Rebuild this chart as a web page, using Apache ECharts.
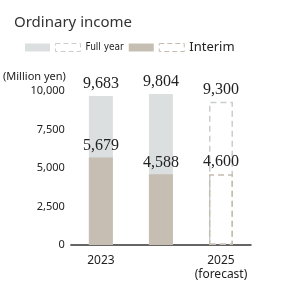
<!DOCTYPE html>
<html>
<head>
<meta charset="utf-8">
<script src="https://cdn.jsdelivr.net/npm/echarts@6/dist/echarts.min.js"></script>
<style>
  html, body { margin: 0; padding: 0; background: #fff; }
  #chart { width: 283px; height: 283px; }
</style>
</head>
<body>
<div id="chart"></div>
<script>
const years = ["2023", "2024", "2025\n(forecast)"];
const fullYear = [9683, 9804, "-"];
const fullYearForecast = ["-", "-", 9300];
const interim = [5679, 4588, "-"];
const interimForecast = ["-", "-", 4600];

const GRAY = "#dbdfe0";
const TAN = "#c6beb2";
const GRAY_DASH = "#c9cdce";
const TAN_DASH = "#c4bcb0";
const fmt = (v) => Number(v).toLocaleString("en-US");

const valueLabel = {
  show: true,
  position: "top",
  distance: 4,
  fontFamily: "Liberation Serif",
  fontSize: 16,
  color: "#222",
  formatter: (p) => fmt(p.value)
};

const chart = echarts.init(document.getElementById("chart"));
chart.setOption({
  animation: false,
  title: {
    text: "Ordinary income",
    left: 14,
    top: 15,
    padding: 0,
    textStyle: { fontFamily: "Noto Sans", fontSize: 15, fontWeight: "normal", color: "#333" }
  },
  legend: {
    left: 25,
    top: 41,
    padding: 0,
    itemWidth: 25,
    itemHeight: 8,
    itemGap: 5,
    selectedMode: false,
    data: [
      { name: "Full year", icon: "rect", textStyle: { fontSize: 0 } },
      {
        name: "Full year forecast", icon: "rect",
        itemStyle: { color: "rgba(255,255,255,0)", borderColor: GRAY_DASH, borderWidth: 1, borderType: [5, 3] },
        textStyle: { fontFamily: "DejaVu Sans Condensed, DejaVu Sans, sans-serif", fontSize: 10, color: "#222", padding: [0, 6, 0, 0] }
      },
      { name: "Interim", icon: "rect", textStyle: { fontSize: 0 } },
      {
        name: "Interim forecast", icon: "rect",
        itemStyle: { color: "rgba(255,255,255,0)", borderColor: TAN_DASH, borderWidth: 1, borderType: [5, 3] },
        textStyle: { fontFamily: "Noto Sans", fontSize: 13, color: "#222" }
      }
    ],
    formatter: (name) => name === "Full year forecast" ? "Full year" : name === "Interim forecast" ? "Interim" : ""
  },
  grid: { left: 70, right: 32, top: 91, bottom: 38 },
  xAxis: {
    type: "category",
    data: years,
    axisTick: { show: false },
    axisLine: { lineStyle: { color: "#333", width: 1.5 } },
    axisLabel: { fontFamily: "Noto Sans", fontSize: 12, color: "#222", margin: 9, lineHeight: 14, verticalAlign: "top" }
  },
  yAxis: {
    type: "value",
    min: 0,
    max: 10000,
    interval: 2500,
    name: "(Million yen)",
    nameLocation: "end",
    nameGap: 14,
    nameTextStyle: { fontFamily: "Noto Sans", fontSize: 11, color: "#222", align: "right", verticalAlign: "middle", padding: [0, 5, 0, 0] },
    splitLine: { show: false },
    axisLine: { show: false },
    axisTick: { show: false },
    axisLabel: { fontFamily: "Noto Sans", fontSize: 11, color: "#222", margin: 6, formatter: fmt }
  },
  series: [
    {
      name: "Full year", type: "bar", data: fullYear, barWidth: 24, barGap: "-100%",
      itemStyle: { color: GRAY }, label: valueLabel
    },
    {
      name: "Full year forecast", type: "bar", data: fullYearForecast, barWidth: 24, barGap: "-100%",
      itemStyle: { color: "rgba(255,255,255,0)", borderColor: GRAY_DASH, borderWidth: 1.5, borderType: [6, 4] },
      label: valueLabel
    },
    {
      name: "Interim", type: "bar", data: interim, barWidth: 24, barGap: "-100%",
      itemStyle: { color: TAN }, label: valueLabel
    },
    {
      name: "Interim forecast", type: "bar", data: interimForecast, barWidth: 24, barGap: "-100%",
      itemStyle: { color: "rgba(255,255,255,0)", borderColor: TAN_DASH, borderWidth: 1.5, borderType: [6, 4] },
      label: valueLabel
    }
  ]
});
</script>
</body>
</html>
